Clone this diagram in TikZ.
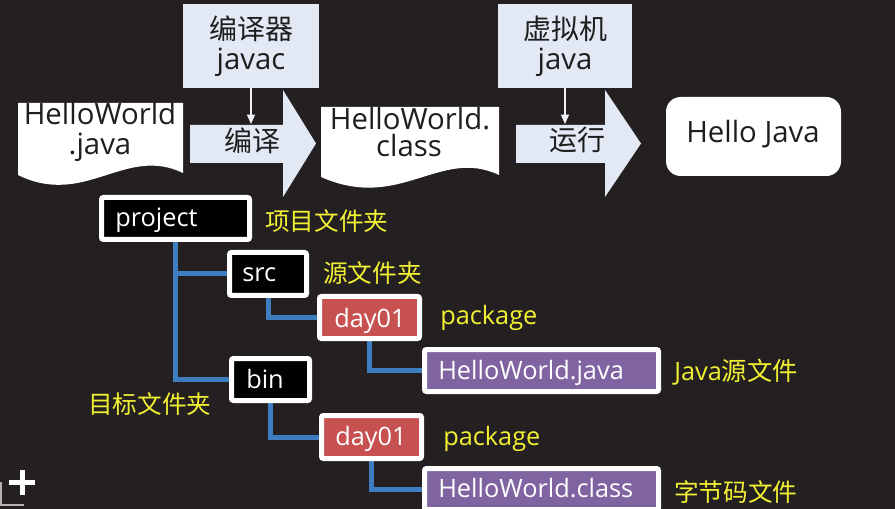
\documentclass[tikz,border=0pt]{standalone}
\usepackage{fontspec}
\setmainfont{Open Sans}
\newfontfamily\cjk{Noto Sans CJK SC}
\usetikzlibrary{arrows.meta,backgrounds}
\definecolor{bgc}{RGB}{36,32,33}
\definecolor{lblue}{RGB}{226,233,244}
\definecolor{dtext}{RGB}{30,30,30}
\definecolor{redf}{RGB}{199,80,80}
\definecolor{purf}{RGB}{128,100,162}
\definecolor{connc}{RGB}{62,125,192}
\definecolor{ylw}{RGB}{242,240,50}
\definecolor{sarrow}{RGB}{238,240,246}
\begin{document}
\begin{tikzpicture}[x=0.75pt,y=-0.75pt,
  sz/.style 2 args={minimum width=#1*0.75pt,minimum height=#2*0.75pt},
  toptext/.style={text=dtext,font=\fontsize{22pt}{26pt}\selectfont,inner sep=0pt,anchor=base},
  topcjk/.style={text=dtext,font=\fontsize{21pt}{25pt}\selectfont\cjk,inner sep=0pt,anchor=base},
  topbox/.style={fill=lblue,inner sep=0pt},
  tbox/.style={draw=white,line width=3.75pt,rounded corners=1.5pt,inner sep=0pt},
  blackbox/.style={tbox,fill=black},
  redbox/.style={tbox,fill=redf},
  purbox/.style={tbox,fill=purf},
  ttext/.style={text=white,font=\fontsize{19pt}{23pt}\selectfont,inner sep=0pt,anchor=base west},
  ylab/.style={text=ylw,font=\fontsize{19pt}{23pt}\selectfont,inner sep=0pt,anchor=base west},
  ycjk/.style={text=ylw,font=\fontsize{18.5pt}{22pt}\selectfont\cjk,inner sep=0pt,anchor=base west},
  wire/.style={draw=connc,line width=3.75pt},
  blockarrow/.style={fill=lblue},
  docshape/.style={fill=white},
  smallarrow/.style={draw=sarrow,line width=0.8pt,-{Triangle[width=6pt,length=7pt]}}
]
\useasboundingbox (0,0) rectangle (895,509);
\clip (0,0) rectangle (895,509);

% ---------- top flow ----------
\node[topbox,sz={136}{84}] (javac) at (251,46) {};
\node[topbox,sz={134}{84}] (vm) at (565,46) {};

\path[blockarrow] (190,125) -- (283,125) -- (283,90) -- (316,143.5) -- (283,197) -- (283,163) -- (190,163) -- cycle;
\path[blockarrow] (516,125) -- (605,125) -- (605,90) -- (641,143.5) -- (605,197) -- (605,163) -- (516,163) -- cycle;
\coordinate (a1top) at (251,124);
\coordinate (a2top) at (565,124);
\draw[smallarrow] (javac.south) -- (a1top);
\draw[smallarrow] (vm.south) -- (a2top);

\path[docshape] (18,103) -- (183,103) -- (183,173) .. controls (125,145) and (85,208) .. (18,175) -- cycle;
\path[docshape] (321,107) -- (499,107) -- (499,175) .. controls (440,147) and (400,212) .. (321,177) -- cycle;

\node[fill=white,rounded corners=11pt,sz={175}{79}] (hello) at (753.5,136.5) {};

\node[topcjk] (t1) at (251,40) {编译器};
\node[toptext] (t2) at (251,70) {javac};
\node[topcjk] (t3) at (252,152) {编译};
\node[toptext] (t4) at (100,125) {HelloWorld};
\node[toptext] (t5) at (100,155) {.java};
\node[toptext] (t6) at (410,130) {HelloWorld.};
\node[toptext] (t7) at (409,157) {class};
\node[topcjk] (t8) at (565,40) {虚拟机};
\node[toptext] (t9) at (565,70) {java};
\node[topcjk] (t10) at (577,151) {运行};
\node[toptext] (t11) at (753,143) {Hello Java};

% ---------- tree ----------
\node[blackbox,sz={148}{42}] (project) at (175.5,218.5) {};
\node[blackbox,sz={77}{43}] (src) at (268,274) {};
\node[redbox,sz={100}{42}] (day1) at (369.5,317.5) {};
\node[purbox,sz={234}{42}] (hwjava) at (541.5,370.5) {};
\node[blackbox,sz={78}{42}] (bin) at (270.5,379.5) {};
\node[redbox,sz={100}{43}] (day2) at (371.5,437) {};
\node[purbox,sz={234}{41}] (hwclass) at (541.5,489) {};

\begin{scope}[on background layer]
\fill[bgc] (0,0) rectangle (895,509);
\draw[wire] (project.south) |- (bin.west);
\draw[wire] (project.south |- src.west) -- (src.west);
\draw[wire] (src.south) |- (day1.west);
\draw[wire] (day1.south) |- (hwjava.west);
\draw[wire] (bin.south) |- (day2.west);
\draw[wire] (day2.south) |- (hwclass.west);
\end{scope}

\node[ttext] (tp) at (115,227) {project};
\node[ttext] (ts) at (242,282) {src};
\node[ttext] (tb) at (246,388) {bin};
\node[ttext] (td1) at (334,327) {day01};
\node[ttext] (td2) at (335,445) {day01};
\node[ttext] (thj) at (438,379) {HelloWorld.java};
\node[ttext] (thc) at (438,497) {HelloWorld.class};

\node[ycjk] (l1) at (265,231) {项目文件夹};
\node[ycjk] (l2) at (323,283) {源文件夹};
\node[ylab] (l3) at (440,325) {package};
\node[ylab] (l4) at (674,380) {Java{\cjk 源文件}};
\node[ylab] (l5) at (443,445) {package};
\node[ycjk] (l6) at (674,501) {字节码文件};
\node[ycjk] (l7) at (88,413) {目标文件夹};

% ---------- corner marks ----------
\draw[white,line width=3.75pt] (22,470) -- (22,495) (9,482.5) -- (35,482.5);
\draw[gray!60,line width=1.2pt] (1,482) -- (1,505) -- (24,505);
\end{tikzpicture}
\end{document}
